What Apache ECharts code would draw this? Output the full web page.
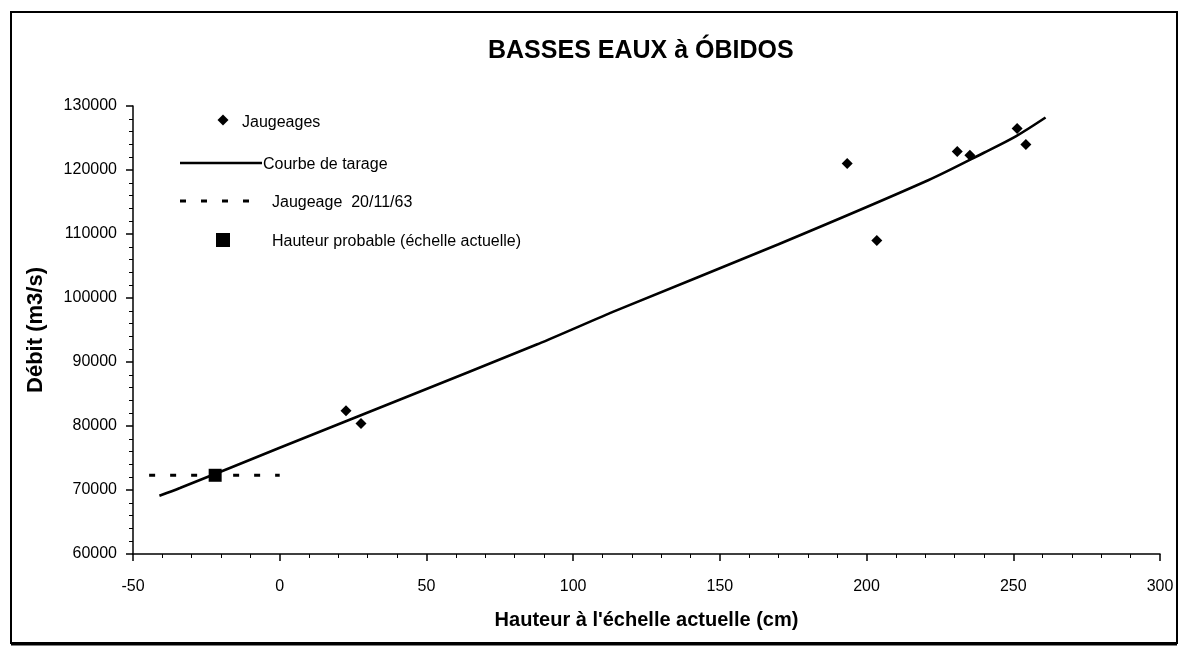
<!DOCTYPE html>
<html>
<head>
<meta charset="utf-8">
<script src="https://cdn.jsdelivr.net/npm/echarts@6/dist/echarts.min.js"></script>
<style>
html,body{margin:0;padding:0;background:#fff;}
#chart{width:1184px;height:648px;}
</style>
</head>
<body>
<div id="chart"></div>
<script>
// ---- data ----
var titleText = 'BASSES EAUX à ÓBIDOS';
var xAxisName = "Hauteur à l'échelle actuelle (cm)";
var yAxisName = 'Débit (m3/s)';
var seriesNames = ['Jaugeages', 'Courbe de tarage', 'Jaugeage  20/11/63', 'Hauteur probable (échelle actuelle)'];

// Jaugeages (hauteur cm, débit m3/s)
var jaugeagesH = [22.6, 27.7, 193.4, 203.5, 230.9, 235.2, 251.3, 254.3];
var jaugeagesQ = [82400, 80400, 121000, 109000, 122900, 122300, 126500, 124000];

// Courbe de tarage
var courbeH = [-41, -34, 0, 40, 88, 115, 170, 221, 240, 251, 261];
var courbeQ = [69100, 70300, 76600, 83950, 92800, 98100, 108400, 118400, 122700, 125300, 128200];

// Jaugeage 20/11/63 (horizontal reference)
var jaug63H = [-44.5, 0];
var jaug63Q = [72300, 72300];

// Hauteur probable
var probableH = [-22];
var probableQ = [72300];

function pairs(a, b) { return a.map(function (v, i) { return [v, b[i]]; }); }

var FONT = '"Liberation Sans", Arial, sans-serif';
var chart = echarts.init(document.getElementById('chart'), null, {renderer: 'canvas'});

var legendText = {fontFamily: FONT, fontSize: 16, fill: '#000'};
function legendLabel(x, y, t) {
  return {type: 'text', left: x, top: y - 7, style: Object.assign({}, legendText, {text: t}), silent: true};
}

var option = {
  backgroundColor: '#fff',
  animation: false,
  title: {
    text: titleText,
    left: 483, top: 34,
    textStyle: {fontFamily: FONT, fontSize: 25, fontWeight: 'bold', color: '#000'}
  },
  grid: {left: 133, right: 24, top: 106, bottom: 94},
  xAxis: {
    type: 'value', min: -50, max: 300, interval: 50,
    name: xAxisName, nameLocation: 'middle', nameGap: 56,
    nameTextStyle: {fontFamily: FONT, fontSize: 20, fontWeight: 'bold', color: '#000'},
    axisLine: {show: true, onZero: false, lineStyle: {color: '#000', width: 1.5}},
    axisTick: {show: true, inside: false, length: 7, lineStyle: {color: '#000', width: 1.5}},
    minorTick: {show: true, splitNumber: 5, length: 4, lineStyle: {color: '#000', width: 1}},
    axisLabel: {fontFamily: FONT, fontSize: 16, color: '#000', margin: 25},
    splitLine: {show: false}
  },
  yAxis: {
    type: 'value', min: 60000, max: 130000, interval: 10000,
    name: yAxisName, nameLocation: 'middle', nameGap: 86, nameRotate: 90,
    nameTextStyle: {fontFamily: FONT, fontSize: 22, fontWeight: 'bold', color: '#000'},
    axisLine: {show: true, onZero: false, lineStyle: {color: '#000', width: 1.5}},
    axisTick: {show: true, inside: false, length: 7, lineStyle: {color: '#000', width: 1.5}},
    minorTick: {show: true, splitNumber: 5, length: 4, lineStyle: {color: '#000', width: 1}},
    axisLabel: {fontFamily: FONT, fontSize: 16, color: '#000', margin: 16, formatter: function (v) { return String(v); }},
    splitLine: {show: false}
  },
  series: [
    {
      name: seriesNames[0], type: 'scatter', symbol: 'diamond', symbolSize: 11,
      itemStyle: {color: '#000', opacity: 1}, data: pairs(jaugeagesH, jaugeagesQ), z: 5
    },
    {
      name: seriesNames[1], type: 'line', symbol: 'none', smooth: 0.3,
      lineStyle: {color: '#000', width: 2.6}, itemStyle: {color: '#000'},
      data: pairs(courbeH, courbeQ), z: 3
    },
    {
      name: seriesNames[2], type: 'line', symbol: 'none',
      lineStyle: {color: '#000', width: 3, type: [6, 15]}, itemStyle: {color: '#000'},
      data: pairs(jaug63H, jaug63Q), z: 2
    },
    {
      name: seriesNames[3], type: 'scatter', symbol: 'rect', symbolSize: 13,
      itemStyle: {color: '#000', opacity: 1}, data: pairs(probableH, probableQ), z: 6
    }
  ],
  graphic: [
    {type: 'rect', shape: {x: 11, y: 12, width: 1166, height: 631}, style: {fill: 'none', stroke: '#000', lineWidth: 2}, silent: true},
    {type: 'line', shape: {x1: 11, y1: 644, x2: 1177, y2: 644}, style: {stroke: '#000', lineWidth: 3}, silent: true},
    // legend
    {type: 'polygon', shape: {points: [[223, 114.5], [228.5, 120], [223, 125.5], [217.5, 120]]}, style: {fill: '#000'}, silent: true},
    legendLabel(242, 122, seriesNames[0]),
    {type: 'line', shape: {x1: 180, y1: 163, x2: 262, y2: 163}, style: {stroke: '#000', lineWidth: 2.6}, silent: true},
    legendLabel(263, 164, seriesNames[1]),
    {type: 'line', shape: {x1: 180, y1: 201, x2: 250, y2: 201}, style: {stroke: '#000', lineWidth: 3, lineDash: [6, 15]}, silent: true},
    legendLabel(272, 202, seriesNames[2]),
    {type: 'rect', shape: {x: 216, y: 233, width: 14, height: 14}, style: {fill: '#000'}, silent: true},
    legendLabel(272, 241, seriesNames[3])
  ]
};
chart.setOption(option);
</script>
</body>
</html>
